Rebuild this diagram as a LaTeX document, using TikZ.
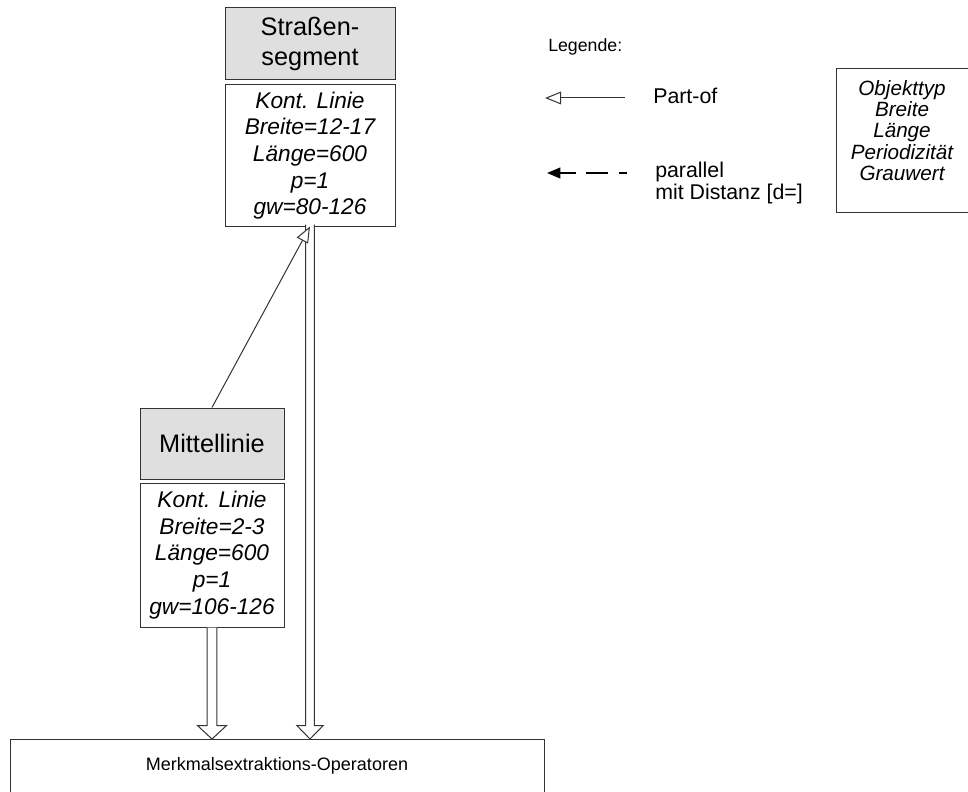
\documentclass[tikz,border=0pt]{standalone}
\usepackage{fontspec}
\setmainfont{Liberation Sans}
\usetikzlibrary{arrows.meta,calc}

\begin{document}
\begin{tikzpicture}[x=0.75pt,y=-0.75pt,
  frame/.style={draw=black!80, line width=0.75pt, inner sep=0pt},
  header/.style={frame, fill=gray!25, align=center,
    font=\fontsize{19}{23}\selectfont},
  attrs/.style={frame, fill=white, align=center,
    font=\fontsize{17}{20}\selectfont\itshape},
  lbl/.style={inner sep=0pt, anchor=west},
  partof/.style={draw=black!80, line width=0.75pt,
    -{Triangle[open, length=12pt, width=9.5pt, fill=white]}},
  parallel/.style={draw=black, line width=1.5pt,
    -{Triangle[length=10pt, width=8pt]},
    dash pattern=on 16.5pt off 8pt, dash phase=10.5pt},
  fat/.style={draw=black!80, line width=0.75pt, fill=white, line join=miter}
]
\useasboundingbox (0,0) rectangle (968,792);

% object hierarchy
\node[header, minimum width=127.5pt, minimum height=54pt] (seg) at (310,44)
  {Straßen-\\segment};
\node[attrs, minimum width=127.5pt, minimum height=105.75pt] (segattr) at (310,155.5)
  {Kont. Linie\\Breite=12-17\\Länge=600\\p=1\\gw=80-126};

\node[header, minimum width=108pt, minimum height=53.25pt] (mid) at (212,443.5)
  {Mittellinie};
\node[attrs, minimum width=108pt, minimum height=108pt] (midattr) at (212,555)
  {Kont. Linie\\Breite=2-3\\Länge=600\\p=1\\gw=106-126};

\node[frame, anchor=north, minimum width=400.5pt, text height=23.6pt,
  text depth=20.6pt, font=\fontsize{13.5}{16}\selectfont] (ops) at (277,739)
  {Merkmalsextraktions-Operatoren};

% hollow block arrows down to the operators
\draw[fat] let \p1=(midattr.south), \p2=(ops.north) in
  (\x1-3.6pt,\y1) -- (\x1-3.6pt,\y2+10pt) -- (\x1-10.8pt,\y2+10pt) -- (\x1,\y2)
  -- (\x1+10.8pt,\y2+10pt) -- (\x1+3.6pt,\y2+10pt) -- (\x1+3.6pt,\y1);
\draw[fat] let \p1=(segattr.south), \p2=(ops.north) in
  (\x1-3.3pt,\y1+1.5pt) -- (\x1-3.3pt,\y2+10pt) -- (\x1-9.8pt,\y2+10pt) -- (\x1,\y2)
  -- (\x1+9.8pt,\y2+10pt) -- (\x1+3.3pt,\y2+10pt) -- (\x1+3.3pt,\y1+1.5pt);

% part-of relation
\draw[partof] (mid.north) -- (segattr.south);

% legend
\node[lbl, font=\fontsize{13.3}{16}\selectfont] (legtitle) at (548,47) {Legende:};

\coordinate (pa) at (625,98);
\coordinate (pb) at (545,98);
\draw[partof] (pa) -- (pb);
\node[lbl, font=\fontsize{16}{16.5}\selectfont] (partlbl) at (653,96) {Part-of};

\coordinate (qa) at (627,173);
\coordinate (qb) at (547,173);
\draw[parallel] (qa) -- (qb);
\node[lbl, align=left, font=\fontsize{16}{16.5}\selectfont] (parlbl) at (655,183)
  {parallel\\mit Distanz [d=]};

% key box, open to the right where it runs off the page
\node[inner sep=0pt, anchor=north west, minimum width=130pt, minimum height=107.25pt]
  (key) at (836,69) {};
\draw[draw=black!80, line width=0.75pt]
  (key.north east) -- (key.north west) -- (key.south west) -- (key.south east);
\node[inner sep=0pt, align=center, font=\fontsize{15.5}{16}\selectfont\itshape]
  (keytext) at (902,130.5)
  {Objekttyp\\Breite\\Länge\\Periodizität\\Grauwert};
\end{tikzpicture}
\end{document}
